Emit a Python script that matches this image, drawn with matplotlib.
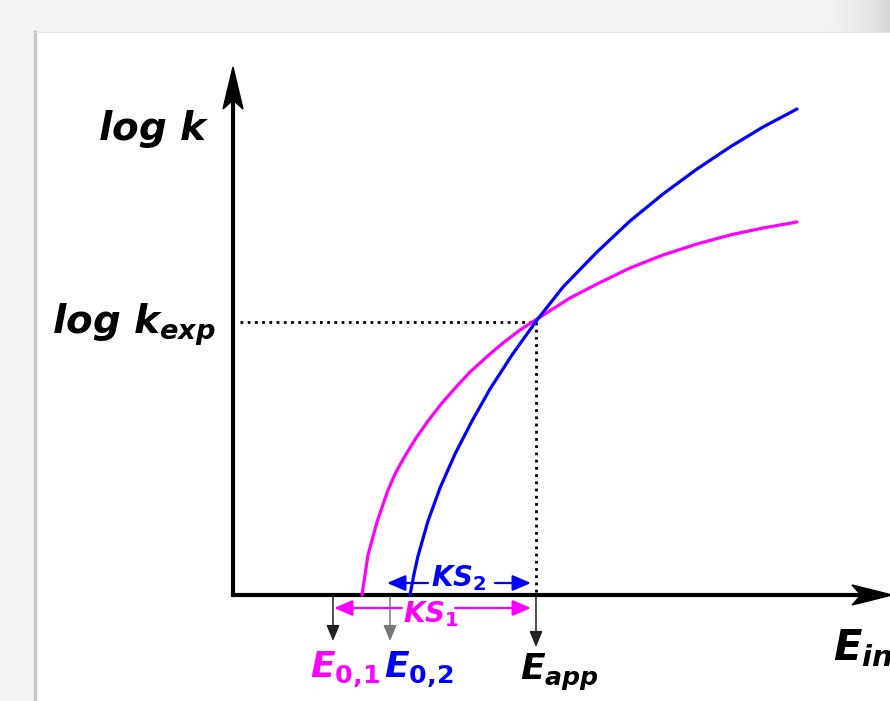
import matplotlib
matplotlib.use("Agg")
import matplotlib.pyplot as plt
from matplotlib.patches import Polygon, Rectangle
import numpy as np

plt.rcParams['mathtext.fontset'] = 'custom'
plt.rcParams['mathtext.it'] = 'DejaVu Sans:italic:bold'
plt.rcParams['mathtext.rm'] = 'DejaVu Sans:bold'
plt.rcParams['mathtext.bf'] = 'DejaVu Sans:bold'
plt.rcParams['mathtext.sf'] = 'DejaVu Sans:bold'

# ---- data (schematic, in picture units) ----
magenta_x = [362, 368, 377, 388, 396, 405, 416, 428, 442, 457, 470, 490, 503, 520, 537, 570, 597, 630, 663, 697, 730, 763, 797]
magenta_y = [595, 555, 522, 490, 472, 456, 438, 421, 403, 386, 372, 354, 343, 330, 319, 298, 284, 268, 255, 244, 235, 228, 222]
blue_x = [410, 414, 418, 428, 440, 455, 472, 490, 512, 537, 563, 597, 630, 663, 697, 730, 763, 797]
blue_y = [595, 574, 556, 521, 488, 454, 421, 389, 355, 320, 287, 252, 221, 194, 169, 147, 127, 109]

origin = (233, 595)
x_tip = 892
y_tip = 67
cross = (536, 322)
E01_x, E02_x, Eapp_x = 333, 390, 536

MAG = '#ff00ff'
BLU = '#0000ff'

fig = plt.figure(figsize=(8.90, 7.01), dpi=100, facecolor='#f4f4f4')
ax = fig.add_axes([0, 0, 1, 1])
ax.set_xlim(0, 890)
ax.set_ylim(701, 0)
ax.axis('off')

# background card
grad = np.linspace(0, 1, 60)[None, :]
ax.imshow(np.dstack([0.96 - 0.12 * grad**3] * 3), extent=(780, 890, 32, 0), aspect='auto', zorder=0)
ax.add_patch(Rectangle((36, 32), 860, 680, facecolor='white', edgecolor='none', zorder=1))
ax.plot([35, 35], [32, 701], color='#c4c4c4', lw=2.5, zorder=1)
ax.plot([36, 890], [32, 32], color='#e6e6e6', lw=1, zorder=1)

# axes lines
ax.plot([origin[0], origin[0]], [origin[1] + 2, y_tip + 30], color='black', lw=3, solid_capstyle='butt', zorder=3)
ax.plot([origin[0] - 2, x_tip - 30], [origin[1], origin[1]], color='black', lw=3, solid_capstyle='butt', zorder=3)
ax.add_patch(Polygon([(origin[0], y_tip), (origin[0] - 10, y_tip + 42), (origin[0], y_tip + 33), (origin[0] + 10, y_tip + 42)],
                     closed=True, color='black', zorder=3))
ax.add_patch(Polygon([(x_tip, origin[1]), (x_tip - 40, origin[1] - 10), (x_tip - 31, origin[1]), (x_tip - 40, origin[1] + 10)],
                     closed=True, color='black', zorder=3))

# dotted guides
ax.plot([240, cross[0]], [cross[1], cross[1]], color='black', lw=2, linestyle=(0, (1, 1.6)), zorder=2)
ax.plot([cross[0], cross[0]], [cross[1], origin[1]], color='black', lw=2, linestyle=(0, (1, 1.6)), zorder=2)

# curves
ax.plot(magenta_x, magenta_y, color=MAG, lw=2.3, zorder=4, solid_capstyle='round', solid_joinstyle='round')
ax.plot(blue_x, blue_y, color=BLU, lw=2.3, zorder=4, solid_capstyle='round', solid_joinstyle='round')

# down arrows
def down(x, y0, y1, c):
    ax.annotate('', xy=(x, y1), xytext=(x, y0),
                arrowprops=dict(arrowstyle='-|>,head_length=0.6,head_width=0.25', color=c, lw=1.1,
                                shrinkA=0, shrinkB=0, mutation_scale=16), zorder=3)

down(E01_x, 597, 641, '#222222')
down(E02_x, 597, 641, '#777777')
down(Eapp_x, 597, 647, '#222222')

# KS arrows
def harrow(x0, x1, y, c):
    ax.annotate('', xy=(x1, y), xytext=(x0, y),
                arrowprops=dict(arrowstyle='-|>,head_length=0.7,head_width=0.3', color=c, lw=1.6,
                                shrinkA=0, shrinkB=0, mutation_scale=16), zorder=5)

harrow(428, 387, 583, BLU)
harrow(495, 531, 583, BLU)
ax.text(459, 578, r'$KS_2$', color=BLU, fontsize=20, ha='center', va='center', zorder=5)

harrow(402, 334, 608, MAG)
harrow(455, 531, 608, MAG)
ax.text(431, 614, r'$KS_1$', color=MAG, fontsize=20, ha='center', va='center', zorder=5)

# labels
ax.text(98, 140, r'$log\ k$', color='black', fontsize=28, ha='left', va='baseline')
ax.text(52, 334, r'$log\ k_{exp}$', color='black', fontsize=28, ha='left', va='baseline')
ax.text(345, 678, r'$E_{0,\!1}$', color=MAG, fontsize=26, ha='center', va='baseline')
ax.text(419, 678, r'$E_{0,\!2}$', color=BLU, fontsize=26, ha='center', va='baseline')
ax.text(520, 680, r'$E_{app}$', color='black', fontsize=26, ha='left', va='baseline')
ax.text(833, 660, r'$E_{int}$', color='black', fontsize=30, ha='left', va='baseline', clip_on=False)

fig.savefig('out.png', dpi=100, facecolor=fig.get_facecolor())
